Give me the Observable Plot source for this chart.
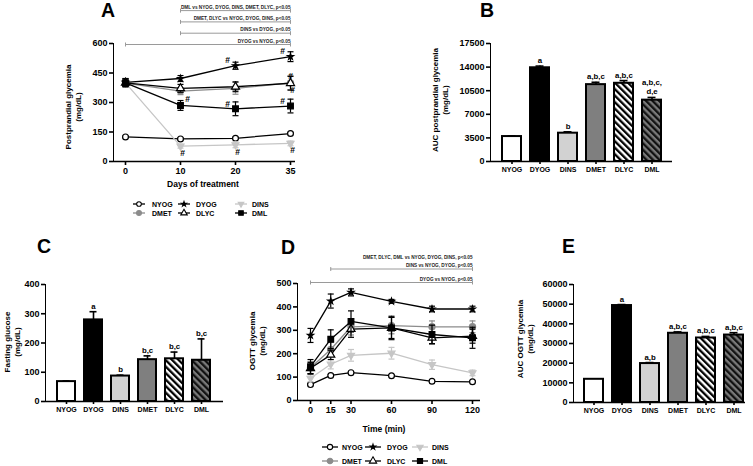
<!DOCTYPE html>
<html><head><meta charset="utf-8">
<script src="https://cdn.jsdelivr.net/npm/d3@7"></script>
<script src="https://cdn.jsdelivr.net/npm/@observablehq/plot@0.6"></script>
<style>
html,body{margin:0;padding:0;background:#fff;}
#fig{position:relative;width:753px;height:466px;overflow:hidden;background:#fff;}
.panel{position:absolute;}
.panel svg{display:block;overflow:visible;}
</style></head><body>
<svg width="0" height="0" style="position:absolute">
 <defs>
  <pattern id="hatchWhite" patternUnits="userSpaceOnUse" width="4.6" height="4.6" patternTransform="rotate(-45)">
   <rect width="4.6" height="4.6" fill="#fff"/><rect width="2.3" height="4.6" fill="#000"/>
  </pattern>
  <pattern id="hatchGray" patternUnits="userSpaceOnUse" width="4.6" height="4.6" patternTransform="rotate(-45)">
   <rect width="4.6" height="4.6" fill="#7a7a7a"/><rect width="2.3" height="4.6" fill="#111"/>
  </pattern>
 </defs>
</svg>
<div id="fig"></div>
<script>
// ---------------- DATA ----------------
const groups = ["NYOG", "DYOG", "DINS", "DMET", "DLYC", "DML"];

// Panel A: postprandial glycemia (mg/dL) over days of treatment
const daysA = [0, 10, 20, 35];
const ticksA = [0, 150, 300, 450, 600];
const ppNYOG = [125, 115, 118, 142];
const ppDYOG = [402, 422, 487, 533];
const ppDINS = [400, 78, 85, 92];
const ppDMET = [398, 358, 372, 400];
const ppDLYC = [400, 372, 380, 398];
const ppDML  = [400, 285, 268, 282];
const ppErrNYOG = [5, 5, 5, 6];
const ppErrDYOG = [20, 15, 18, 25];
const ppErrDINS = [15, 10, 15, 12];
const ppErrDMET = [15, 18, 30, 35];
const ppErrDLYC = [20, 20, 25, 35];
const ppErrDML  = [20, 25, 35, 35];
const hashA = [
  {group: "DYOG", day: 20, place: "upleft"}, {group: "DYOG", day: 35, place: "upleft"},
  {group: "DMET", day: 35, place: "above"},  {group: "DLYC", day: 35, place: "below"},
  {group: "DML", day: 10, place: "upright"}, {group: "DML", day: 20, place: "upleft"},
  {group: "DML", day: 35, place: "upleft"},
  {group: "DINS", day: 10, place: "below"}, {group: "DINS", day: 20, place: "below"},
  {group: "DINS", day: 35, place: "below"}
];
const sigA = [
  {label: "DYOG vs NYOG, p<0.05", from: 0, to: 35},
  {label: "DINS vs DYOG, p<0.05", from: 10, to: 35},
  {label: "DMET, DLYC vs NYOG, DYOG, DINS, p<0.05", from: 10, to: 35},
  {label: "DML vs NYOG, DYOG, DINS, DMET, DLYC, p<0.05", from: 10, to: 35}
];

// Panel B: AUC postprandial glycemia
const ticksB = [0, 3500, 7000, 10500, 14000, 17500];
const aucPP = [3700, 13900, 4200, 11400, 11600, 9100];
const aucPPErr = [100, 250, 200, 350, 400, 400];
const aucPPSig = ["", "a", "b", "a,b,c", "a,b,c", "a,b,c,\nd,e"];

// Panel C: fasting glucose
const ticksC = [0, 100, 200, 300, 400];
const fasting = [68, 279, 87, 143, 146, 141];
const fastingErr = [2, 28, 3, 13, 23, 73];
const fastingSig = ["", "a", "b", "b,c", "b,c", "b,c"];

// Panel D: OGTT glycemia over time (min)
const timesD = [0, 15, 30, 60, 90, 120];
const ticksD = [0, 100, 200, 300, 400, 500];
const ogNYOG = [68, 107, 119, 106, 82, 80];
const ogDYOG = [278, 425, 462, 424, 391, 391];
const ogDINS = [95, 155, 193, 202, 153, 118];
const ogDMET = [140, 218, 315, 320, 315, 315];
const ogDLYC = [138, 195, 305, 310, 268, 275];
const ogDML  = [145, 262, 338, 310, 282, 268];
const ogErrNYOG = [5, 4, 4, 4, 4, 4];
const ogErrDYOG = [30, 30, 15, 8, 12, 12];
const ogErrDINS = [15, 20, 25, 25, 20, 12];
const ogErrDMET = [25, 30, 35, 35, 25, 25];
const ogErrDLYC = [25, 20, 35, 45, 25, 30];
const ogErrDML  = [30, 40, 45, 50, 40, 45];
const sigD = [
  {label: "DYOG vs NYOG, p<0.05", from: 0, to: 120},
  {label: "DINS vs NYOG, DYOG, p<0.05", from: 15, to: 120},
  {label: "DMET, DLYC, DML vs NYOG, DYOG, DINS, p<0.05", from: null, to: 120}
];

// Panel E: AUC OGTT glycemia
const ticksE = [0, 10000, 20000, 30000, 40000, 50000, 60000];
const aucOg = [11800, 49300, 19800, 35200, 32800, 34300];
const aucOgErr = [150, 500, 500, 700, 800, 1200];
const aucOgSig = ["", "a", "a,b", "a,b,c", "a,b,c", "a,b,c"];

// ---------------- STYLE ----------------
const FONT = '"Liberation Sans", Arial, Helvetica, sans-serif';
const lineColor = {NYOG: "#000", DYOG: "#000", DINS: "#c6c6c6", DMET: "#8c8c8c", DLYC: "#000", DML: "#000"};
const markFill  = {NYOG: "#fff", DYOG: "#000", DINS: "#c6c6c6", DMET: "#8c8c8c", DLYC: "#fff", DML: "#000"};
const barFill   = {NYOG: "#fff", DYOG: "#000", DINS: "#d2d2d2", DMET: "#7f7f7f", DLYC: "url(#hatchWhite)", DML: "url(#hatchGray)"};
const triDown = {draw(c, size) {
  const y = Math.sqrt(size / (3 * Math.sqrt(3)));
  c.moveTo(0, 2 * y); c.lineTo(Math.sqrt(3) * y, -y); c.lineTo(-Math.sqrt(3) * y, -y); c.closePath();
}};
const markSym = {NYOG: d3.symbolCircle, DYOG: d3.symbolStar, DINS: triDown, DMET: d3.symbolCircle, DLYC: d3.symbolTriangle, DML: d3.symbolSquare};
const markR   = {NYOG: 2.9, DYOG: 1.9, DINS: 2.6, DMET: 3.1, DLYC: 3.0, DML: 3.2};
const capSym = {draw(c) { c.moveTo(-3, 0); c.lineTo(3, 0); }};
const vTick  = {draw(c) { c.moveTo(0, -2); c.lineTo(0, 2); }};
const hashOffset = {upleft: [-8, -5], upright: [7, -6], above: [0, -7], below: [2, 7]};

const baseStyle = {fontFamily: FONT, fontSize: "9px", fontWeight: "bold", color: "#000", background: "transparent", overflow: "visible"};
const fig = document.getElementById("fig");
function place(node, left, top) {
  const d = document.createElement("div");
  d.className = "panel"; d.style.left = left + "px"; d.style.top = top + "px";
  d.appendChild(node); fig.appendChild(d);
}
function styleAxes(svg, xFont) {
  const s = d3.select(svg);
  s.selectAll('[aria-label^="x-axis"],[aria-label^="y-axis"]').attr("stroke-width", 1.6);
  if (xFont) s.selectAll('[aria-label^="x-axis"]').style("font-size", xFont + "px");
}

function seriesRows(xs, vals, errs) {
  return groups.flatMap(g => xs.map((x, i) => ({g, x, v: vals[g][i], e: errs[g][i]})));
}
function seriesMarks(rows, order) {
  const marks = [];
  for (const g of order) {
    const d = rows.filter(r => r.g === g);
    marks.push(Plot.line(d, {x: "x", y: "v", stroke: lineColor[g], strokeWidth: 1.3}));
    marks.push(Plot.ruleX(d, {x: "x", y1: r => r.v - r.e, y2: r => r.v + r.e, stroke: lineColor[g], strokeWidth: 1.2}));
    marks.push(Plot.dot(d, {x: "x", y: r => r.v + r.e, symbol: capSym, fill: "none", stroke: lineColor[g], strokeWidth: 1.2}));
    marks.push(Plot.dot(d, {x: "x", y: r => r.v - r.e, symbol: capSym, fill: "none", stroke: lineColor[g], strokeWidth: 1.2}));
    marks.push(Plot.dot(d, {x: "x", y: "v", symbol: markSym[g], r: markR[g], fill: markFill[g], stroke: lineColor[g], strokeWidth: 1.2}));
  }
  return marks;
}
function sigMarks(sig, top, step, base) {
  const marks = [];
  sig.forEach((s, k) => {
    const off = base - step * k;
    if (s.from != null) {
      marks.push(Plot.ruleY([s], {x1: "from", x2: "to", y: () => top, dy: off, stroke: "#9a9a9a", strokeWidth: 1}));
      marks.push(Plot.dot([s.from, s.to], {x: d => d, y: () => top, dy: off, symbol: vTick, fill: "none", stroke: "#9a9a9a", strokeWidth: 1}));
    }
    marks.push(Plot.text([s], {x: "to", y: () => top, dy: s.from != null ? off - 3.5 : off + 2, text: "label",
      textAnchor: "end", fontSize: 4.7, fontWeight: "bold", fill: "#222"}));
  });
  return marks;
}

// ---------------- PANEL A ----------------
{
  const vals = {NYOG: ppNYOG, DYOG: ppDYOG, DINS: ppDINS, DMET: ppDMET, DLYC: ppDLYC, DML: ppDML};
  const errs = {NYOG: ppErrNYOG, DYOG: ppErrDYOG, DINS: ppErrDINS, DMET: ppErrDMET, DLYC: ppErrDLYC, DML: ppErrDML};
  const rows = seriesRows(daysA, vals, errs);
  const top = ticksA[ticksA.length - 1];
  const hashRows = hashA.map(h => ({...h, v: vals[h.group][daysA.indexOf(h.day)]}));
  const hashMarks = Object.keys(hashOffset).map(p => Plot.text(hashRows.filter(h => h.place === p),
    {x: "day", y: "v", text: () => "#", dx: hashOffset[p][0], dy: hashOffset[p][1], fontSize: 8.5, fontWeight: "bold"}));
  const svg = Plot.plot({
    width: 330, height: 185, marginLeft: 113, marginRight: 35, marginTop: 43, marginBottom: 24,
    style: baseStyle,
    x: {type: "point", domain: daysA, padding: 0.135, align: 0.733, tickSize: 4, tickPadding: 2, label: null, tickFormat: d => d},
    y: {domain: [0, top], ticks: ticksA, tickSize: 4, tickPadding: 2, label: null, line: true, tickFormat: d => d},
    marks: [
      ...sigMarks(sigA, top, 11.3, 1),
      Plot.ruleY([0], {strokeWidth: 1.6}),
      ...seriesMarks(rows, ["NYOG", "DINS", "DMET", "DLYC", "DML", "DYOG"]),
      ...hashMarks
    ]
  });
  styleAxes(svg);
  place(svg, 0, 0);
}

// ---------------- BAR PANELS ----------------
function barPanel({vals, errs, sig, ticks, left, top, width, mL, mR, mT, mB, pi, po, align}) {
  const rows = groups.map((g, i) => ({g, v: vals[i], e: errs[i], s: sig[i]}));
  const svg = Plot.plot({
    width, height: 185, marginLeft: mL, marginRight: mR, marginTop: mT, marginBottom: mB,
    style: baseStyle,
    color: {type: "identity"},
    x: {domain: groups, paddingInner: pi, paddingOuter: po, align, tickSize: 3, tickPadding: 3, label: null},
    y: {domain: [0, ticks[ticks.length - 1]], ticks, tickSize: 4, tickPadding: 2, label: null, line: true, tickFormat: d => String(d)},
    marks: [
      Plot.ruleX(rows, {x: "g", y1: "v", y2: d => d.v + d.e, strokeWidth: 1.6}),
      Plot.tickY(rows, {x: "g", y: d => d.v + d.e, insetLeft: 5.5, insetRight: 5.5, strokeWidth: 1.6}),
      Plot.barY(rows, {x: "g", y: "v", fill: d => barFill[d.g], stroke: "#000", strokeWidth: 2}),
      Plot.ruleY([0], {strokeWidth: 1.6}),
      Plot.text(rows, {x: "g", y: d => d.v + d.e, text: "s", dy: -3, lineAnchor: "bottom", fontSize: 7.8, fontWeight: "bold", lineHeight: 1.25})
    ]
  });
  styleAxes(svg, 7);
  place(svg, left, top);
}
barPanel({vals: aucPP, errs: aucPPErr, sig: aucPPSig, ticks: ticksB, left: 420, top: 0, width: 333, mL: 70, mR: 81, mT: 43, mB: 24, pi: 0.336, po: 0.35, align: 0.5});
barPanel({vals: fasting, errs: fastingErr, sig: fastingSig, ticks: ticksC, left: 0, top: 235, width: 240, mL: 45, mR: 17, mT: 49, mB: 19, pi: 0.317, po: 0.36, align: 0.5});
barPanel({vals: aucOg, errs: aucOgErr, sig: aucOgSig, ticks: ticksE, left: 505, top: 235, width: 248, mL: 68, mR: 8, mT: 49, mB: 18, pi: 0.32, po: 0.23, align: 0.846});

// ---------------- PANEL D ----------------
{
  const vals = {NYOG: ogNYOG, DYOG: ogDYOG, DINS: ogDINS, DMET: ogDMET, DLYC: ogDLYC, DML: ogDML};
  const errs = {NYOG: ogErrNYOG, DYOG: ogErrDYOG, DINS: ogErrDINS, DMET: ogErrDMET, DLYC: ogErrDLYC, DML: ogErrDML};
  const rows = seriesRows(timesD, vals, errs);
  const top = ticksD[ticksD.length - 1];
  const svg = Plot.plot({
    width: 230, height: 185, marginLeft: 27, marginRight: 20, marginTop: 48, marginBottom: 20,
    style: baseStyle,
    x: {domain: [0, 120], ticks: timesD, insetLeft: 13, insetRight: 8, tickSize: 4, tickPadding: 2, label: null, tickFormat: d => d},
    y: {domain: [0, top], ticks: ticksD, tickSize: 4, tickPadding: 2, label: null, line: true, tickFormat: d => d},
    marks: [
      ...sigMarks(sigD, top, 13.5, -1),
      Plot.ruleY([0], {strokeWidth: 1.6}),
      ...seriesMarks(rows, ["NYOG", "DINS", "DMET", "DLYC", "DML", "DYOG"])
    ]
  });
  styleAxes(svg);
  place(svg, 270, 235);
}

// ---------------- OVERLAY TEXT & LEGENDS ----------------
const ov = d3.select(fig).append("svg").attr("width", 753).attr("height", 466)
  .style("position", "absolute").style("left", "0px").style("top", "0px")
  .attr("font-family", FONT).attr("font-weight", "bold");
function letter(s, x, y) { ov.append("text").attr("x", x).attr("y", y).attr("font-size", 19.5).text(s); }
letter("A", 101, 17); letter("B", 480, 17); letter("C", 37, 253); letter("D", 281, 254); letter("E", 562, 253);
function vlabel(lines, x, y) {
  lines.forEach((s, i) => ov.append("text").attr("transform", `translate(${x + i * 10},${y}) rotate(-90)`)
    .attr("text-anchor", "middle").attr("dominant-baseline", "central").attr("font-size", 8).text(s));
}
function hlabel(s, x, y) {
  ov.append("text").attr("x", x).attr("y", y).attr("text-anchor", "middle").attr("dominant-baseline", "central").attr("font-size", 8.5).text(s);
}
vlabel(["Postprandial glycemia", "(mg/dL)"], 68, 107);
hlabel("Days of treatment", 203, 184);
vlabel(["AUC postprandial glycemia", "(mg/dL)"], 435, 100);
vlabel(["Fasting glucose", "(mg/dL)"], 7, 342);
vlabel(["OGTT glycemia", "(mg/dL)"], 252, 341);
hlabel("Time (min)", 384, 429);
vlabel(["AUC OGTT glycemia", "(mg/dL)"], 520, 339);

function legend(symX, textX, rowY, half, scale) {
  groups.forEach((g, i) => {
    const cx = symX[i % 3], cy = rowY[Math.floor(i / 3)];
    ov.append("line").attr("x1", cx - half).attr("x2", cx + half).attr("y1", cy).attr("y2", cy)
      .attr("stroke", lineColor[g]).attr("stroke-width", 1.3);
    const r = markR[g] * scale;
    ov.append("path").attr("transform", `translate(${cx},${cy})`)
      .attr("d", d3.symbol(markSym[g], Math.PI * r * r)())
      .attr("fill", markFill[g]).attr("stroke", lineColor[g]).attr("stroke-width", 1.1);
    ov.append("text").attr("x", textX[i % 3]).attr("y", cy).attr("dominant-baseline", "central")
      .attr("font-size", 7).text(g);
  });
}
legend([139, 184, 241], [152, 196, 252], [204, 213], 6, 0.8);
legend([330, 373, 420], [342, 387, 432], [447, 461], 8, 0.9);
</script></body></html>
